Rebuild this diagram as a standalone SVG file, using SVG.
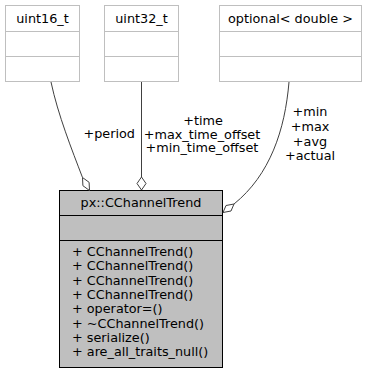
<svg xmlns="http://www.w3.org/2000/svg" width="373" height="376" viewBox="0 0 373 376">
  <style>
    text { font-family: "DejaVu Sans", "Liberation Sans", sans-serif; font-size: 12.8px; fill: #000; }
    .mid { text-anchor: middle; }
    .end { text-anchor: end; }
    .ext rect { fill: #fff; stroke: #bfbfbf; stroke-width: 1; }
    .ext line { stroke: #bfbfbf; stroke-width: 1; }
    .cls rect { fill: #bfbfbf; stroke: #000; stroke-width: 1; }
    .cls line { stroke: #000; stroke-width: 1; }
    .edge { fill: none; stroke: #404040; stroke-width: 1; }
    .head { fill: #fff; stroke: #404040; stroke-width: 1; }
  </style>

  <rect width="373" height="376" fill="#fff"/>

  <!-- external types -->
  <g id="node-uint16_t" class="ext">
    <rect x="5.5" y="5.5" width="74" height="76"/>
    <line x1="5.5" y1="31.5" x2="79.5" y2="31.5"/>
    <line x1="5.5" y1="56.5" x2="79.5" y2="56.5"/>
    <text class="mid" x="42.5" y="23">uint16_t</text>
  </g>

  <g id="node-uint32_t" class="ext">
    <rect x="104.5" y="5.5" width="74" height="76"/>
    <line x1="104.5" y1="31.5" x2="178.5" y2="31.5"/>
    <line x1="104.5" y1="56.5" x2="178.5" y2="56.5"/>
    <text class="mid" x="141.5" y="23">uint32_t</text>
  </g>

  <g id="node-optional-double" class="ext">
    <rect x="219.5" y="5.5" width="142" height="76"/>
    <line x1="219.5" y1="31.5" x2="361.5" y2="31.5"/>
    <line x1="219.5" y1="56.5" x2="361.5" y2="56.5"/>
    <text class="mid" x="290.5" y="23">optional&lt; double &gt;</text>
  </g>

  <!-- the class itself -->
  <g id="node-CChannelTrend" class="cls">
    <rect x="59.5" y="190.5" width="163" height="177"/>
    <line x1="59.5" y1="215.5" x2="222.5" y2="215.5"/>
    <line x1="59.5" y1="240.5" x2="222.5" y2="240.5"/>
    <text class="mid" x="141" y="207">px::CChannelTrend</text>
    <text x="72" y="256">+ CChannelTrend()</text>
    <text x="72" y="270.3">+ CChannelTrend()</text>
    <text x="72" y="284.6">+ CChannelTrend()</text>
    <text x="72" y="298.9">+ CChannelTrend()</text>
    <text x="72" y="313.2">+ operator=()</text>
    <text x="72" y="327.5">+ ~CChannelTrend()</text>
    <text x="72" y="341.8">+ serialize()</text>
    <text x="72" y="356.1">+ are_all_traits_null()</text>
  </g>

  <!-- aggregation connectors -->
  <g id="connectors">
    <path class="edge" d="M51,82 C58,115 72,150 82.5,177.5"/>
    <polygon class="head" points="89.5,190.5 89.1,182.3 82.5,177.5 82.9,185.7"/>
    <text class="end" x="135" y="137.5">+period</text>

    <path class="edge" d="M141.5,82 L141.5,177"/>
    <polygon class="head" points="141.5,190 146,183.5 141.5,177 137,183.5"/>
    <text class="mid" x="203" y="125">+time</text>
    <text class="mid" x="202" y="138.5">+max_time_offset</text>
    <text class="mid" x="202" y="152">+min_time_offset</text>

    <path class="edge" d="M289,82 C285,130 270,175 234,204"/>
    <polygon class="head" points="223,212.5 231,211 234,204 226,205.5"/>
    <text class="mid" x="310" y="116">+min</text>
    <text class="mid" x="310" y="131">+max</text>
    <text class="mid" x="310" y="145.5">+avg</text>
    <text class="mid" x="310" y="160">+actual</text>
  </g>
</svg>
